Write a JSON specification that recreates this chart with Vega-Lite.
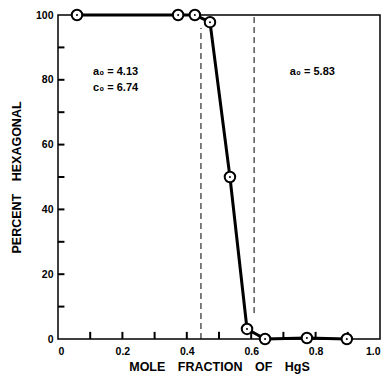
{
  "$schema": "https://vega.github.io/schema/vega-lite/v6.json",
  "width": 322,
  "height": 324,
  "autosize": {"type": "none"},
  "padding": {"left": 58, "top": 15, "right": 4, "bottom": 40},
  "background": "white",
  "config": {
    "view": {"stroke": "black", "strokeWidth": 1.5},
    "font": "Liberation Sans",
    "axis": {
      "domain": false,
      "grid": false,
      "ticks": false,
      "labelColor": "black",
      "labelFont": "Liberation Sans",
      "labelFontWeight": "bold",
      "labelFontSize": 10.5,
      "titleColor": "black",
      "titleFont": "Liberation Sans",
      "titleFontWeight": "bold",
      "titleFontSize": 12.5
    }
  },
  "datasets": {
    "pts": [
      {"x": 0.059, "y": 100},
      {"x": 0.373, "y": 100},
      {"x": 0.425, "y": 100},
      {"x": 0.472, "y": 97.8},
      {"x": 0.534, "y": 50},
      {"x": 0.587, "y": 3.1},
      {"x": 0.643, "y": 0},
      {"x": 0.773, "y": 0.3},
      {"x": 0.897, "y": 0}
    ],
    "rules": [
      {"x": 0.444, "y": 0, "y2": 96},
      {"x": 0.609, "y": 8, "y2": 100}
    ],
    "xticks": [
      {"x": 0.1, "y": 0, "y2": 2.2}, {"x": 0.2, "y": 0, "y2": 2.2}, {"x": 0.3, "y": 0, "y2": 2.2},
      {"x": 0.4, "y": 0, "y2": 2.2}, {"x": 0.5, "y": 0, "y2": 2.2}, {"x": 0.6, "y": 0, "y2": 2.2},
      {"x": 0.7, "y": 0, "y2": 2.2}, {"x": 0.8, "y": 0, "y2": 2.2}, {"x": 0.9, "y": 0, "y2": 2.2}
    ],
    "yticks": [
      {"y": 10, "x": 0, "x2": 0.02}, {"y": 20, "x": 0, "x2": 0.02}, {"y": 30, "x": 0, "x2": 0.02},
      {"y": 40, "x": 0, "x2": 0.02}, {"y": 50, "x": 0, "x2": 0.02}, {"y": 60, "x": 0, "x2": 0.02},
      {"y": 70, "x": 0, "x2": 0.02}, {"y": 80, "x": 0, "x2": 0.02}, {"y": 90, "x": 0, "x2": 0.02}
    ],
    "labels": [
      {"x": 0.109, "y": 82.4, "t": "a₀ = 4.13"},
      {"x": 0.109, "y": 77.5, "t": "c₀ = 6.74"},
      {"x": 0.72, "y": 82.4, "t": "a₀ = 5.83"}
    ]
  },
  "layer": [
    {
      "data": {"name": "rules"},
      "mark": {"type": "rule", "color": "black", "strokeWidth": 1, "strokeDash": [6, 4]},
      "encoding": {
        "x": {"field": "x", "type": "quantitative", "scale": {"domain": [0, 1]}},
        "y": {"field": "y", "type": "quantitative", "scale": {"domain": [0, 100]}},
        "y2": {"field": "y2"}
      }
    },
    {
      "data": {"name": "xticks"},
      "mark": {"type": "rule", "color": "black", "strokeWidth": 2},
      "encoding": {
        "x": {"field": "x", "type": "quantitative"},
        "y": {"field": "y", "type": "quantitative"},
        "y2": {"field": "y2"}
      }
    },
    {
      "data": {"name": "yticks"},
      "mark": {"type": "rule", "color": "black", "strokeWidth": 2},
      "encoding": {
        "x": {"field": "x", "type": "quantitative"},
        "x2": {"field": "x2"},
        "y": {"field": "y", "type": "quantitative"}
      }
    },
    {
      "data": {"name": "pts"},
      "mark": {"type": "line", "color": "black", "strokeWidth": 3},
      "encoding": {
        "x": {
          "field": "x", "type": "quantitative",
          "scale": {"domain": [0, 1], "nice": false},
          "axis": {
            "title": "MOLE\u2002\u2002FRACTION\u2002\u2002OF\u2002\u2002HgS",
            "values": [0, 0.2, 0.4, 0.6, 0.8, 1.0],
            "labelExpr": "datum.value == 0 ? '0' : format(datum.value, '.1f')",
            "labelPadding": 7,
            "titlePadding": 4
          }
        },
        "y": {
          "field": "y", "type": "quantitative",
          "scale": {"domain": [0, 100], "nice": false},
          "axis": {
            "title": "PERCENT\u2002\u2002HEXAGONAL",
            "values": [0, 20, 40, 60, 80, 100],
            "labelPadding": 5,
            "titlePadding": 12
          }
        },
        "order": {"field": "x", "type": "quantitative"}
      }
    },
    {
      "data": {"name": "pts"},
      "mark": {"type": "point", "shape": "circle", "size": 110, "stroke": "black", "strokeWidth": 2, "fill": "white", "filled": false, "fillOpacity": 1, "opacity": 1},
      "encoding": {
        "x": {"field": "x", "type": "quantitative"},
        "y": {"field": "y", "type": "quantitative"}
      }
    },
    {
      "data": {"name": "pts"},
      "mark": {"type": "point", "shape": "circle", "size": 4, "filled": true, "color": "black", "opacity": 1},
      "encoding": {
        "x": {"field": "x", "type": "quantitative"},
        "y": {"field": "y", "type": "quantitative"}
      }
    },
    {
      "data": {"name": "labels"},
      "mark": {"type": "text", "align": "left", "baseline": "middle", "fontSize": 11, "fontWeight": "bold", "font": "Liberation Sans", "color": "black"},
      "encoding": {
        "x": {"field": "x", "type": "quantitative"},
        "y": {"field": "y", "type": "quantitative"},
        "text": {"field": "t"}
      }
    }
  ]
}
